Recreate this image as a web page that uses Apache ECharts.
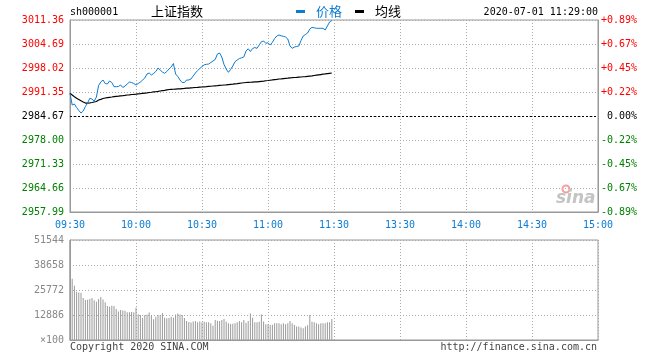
<!DOCTYPE html>
<html><head><meta charset="utf-8">
<script src="https://cdn.jsdelivr.net/npm/echarts@6/dist/echarts.min.js"></script>
<style>html,body{margin:0;padding:0;background:#fff}#c{width:660px;height:360px}</style>
</head><body><div id="c"></div>
<script>
const code = 'sh000001';
const indexName = '上证指数';
const stamp = '2020-07-01 11:29:00';
const prevClose = 2984.67;
const priceMin = 2957.99, priceMax = 3011.36;
const priceTickLabels = ['2957.99','2964.66','2971.33','2978.00','2984.67','2991.35','2998.02','3004.69','3011.36'];
const pctTickLabels = ['-0.89%','-0.67%','-0.45%','-0.22%','0.00%','+0.22%','+0.45%','+0.67%','+0.89%'];
const timeTickLabels = ['09:30','10:00','10:30','11:00','11:30','13:30','14:00','14:30','15:00'];
const volMax = 51544;
const volTickLabels = ['×100','12886','25772','38658','51544'];

const price = [
2990.98,2987.73,2988.01,2987.03,2986.20,2985.50,2986.06,2987.31,2988.28,2989.59,
2989.40,2988.78,2989.95,2993.15,2994.12,2994.68,2993.70,2993.57,2994.40,2993.98,
2992.82,2992.82,2992.87,2993.29,2992.59,2993.01,2993.57,2994.12,2993.98,2993.70,
2993.29,2993.70,2994.12,2994.68,2995.23,2996.35,2996.62,2996.07,2996.48,2997.04,
2998.01,2997.46,2996.90,2996.54,2997.04,2997.74,2998.29,2999.26,2996.35,2995.65,
2994.68,2993.98,2993.98,2994.68,2994.68,2994.96,2995.79,2996.62,2997.32,2997.87,
2998.43,2998.90,2999.04,2999.12,2999.54,2999.96,3000.38,3001.90,3002.18,3001.07,
2998.99,2997.74,2996.82,2997.60,2998.57,2999.76,3000.24,3000.65,3000.85,3001.07,
3002.74,3003.35,3002.60,3003.43,3003.71,3003.49,3004.41,3005.32,3005.52,3004.88,
3005.02,3004.41,3005.16,3006.21,3006.91,3007.19,3006.96,3006.82,3006.63,3006.07,
3004.13,3003.49,3003.85,3003.99,3004.13,3005.66,3006.91,3007.32,3007.74,3008.85,
3009.33,3009.19,3009.05,3009.05,3009.05,3009.05,3008.58,3009.69,3010.80,3011.20
];
const avgPrice = [
2990.98,2990.51,2990.01,2989.59,2989.26,2988.90,2988.56,2988.28,2988.28,2988.34,
2988.42,2988.56,2988.70,2989.12,2989.31,2989.54,2989.67,2989.79,2989.87,2989.95,
2990.04,2990.12,2990.20,2990.29,2990.34,2990.42,2990.51,2990.56,2990.65,2990.70,
2990.76,2990.83,2990.90,2990.98,2991.05,2991.12,2991.20,2991.27,2991.36,2991.42,
2991.51,2991.62,2991.73,2991.81,2991.93,2992.04,2992.08,2992.11,2992.15,2992.19,
2992.23,2992.29,2992.34,2992.40,2992.45,2992.51,2992.55,2992.60,2992.64,2992.69,
2992.73,2992.79,2992.84,2992.90,2992.95,2993.01,2993.07,2993.12,2993.18,2993.23,
2993.29,2993.35,2993.42,2993.49,2993.55,2993.62,2993.69,2993.77,2993.84,2993.91,
2993.98,2994.02,2994.06,2994.10,2994.14,2994.18,2994.25,2994.32,2994.39,2994.47,
2994.54,2994.62,2994.70,2994.79,2994.87,2994.96,2995.02,2995.09,2995.16,2995.22,
2995.29,2995.33,2995.38,2995.42,2995.47,2995.51,2995.58,2995.64,2995.71,2995.78,
2995.84,2995.93,2996.02,2996.11,2996.20,2996.29,2996.37,2996.46,2996.54,2996.62
];
const volume = [
51544,31600,27900,24900,24500,24400,21700,20600,20700,21100,
21700,20500,19700,21100,22100,20900,19400,17500,17200,17600,
17500,16000,14700,15400,15200,15100,14300,14300,14400,14300,
16600,13300,12900,11500,12900,13100,14200,12800,10700,12000,
12900,12900,13900,11500,11200,11300,12000,11500,13200,13700,
13200,12900,11300,9800,9300,9000,9500,9800,9200,9500,
9100,9400,9100,9100,8600,7400,10300,9900,9800,10300,
10800,9400,8600,8300,8400,8600,9100,9800,9100,10300,
8900,9800,13700,11500,9100,9100,9400,13200,9500,8100,
8100,7700,7800,8600,8600,8600,8100,8600,8100,8600,
9800,8600,7700,6900,7000,6400,6000,6900,7600,12900,
9400,9100,8600,8100,8600,8600,8600,9100,9100,10800
];

// trading-minute categories: 09:30-11:30, 13:01-15:00
const times = [];
function pad(n){return (n<10?'0':'')+n;}
for (let t = 9*60+30; t <= 11*60+30; t++) times.push(pad(Math.floor(t/60))+':'+pad(t%60));
for (let t = 13*60+1; t <= 15*60; t++) times.push(pad(Math.floor(t/60))+':'+pad(t%60));

const mono = '"DejaVu Sans Mono", "Liberation Mono", monospace';
const cjk = '"Noto Sans CJK SC", sans-serif';
const blue = '#0c7bd2';
const grey = '#999';
const gridDot = {color:'#aaa', type:[1,2], width:1};
const step = (priceMax - priceMin) / 8;
const tickIdx = v => Math.round((Number(v) - priceMin) / step);
const lblColor = v => { const i = tickIdx(v); return i > 4 ? '#ff0000' : (i < 4 ? '#008000' : '#000'); };
const every30 = (i) => i % 30 === 0;

const chart = echarts.init(document.getElementById('c'), null, {renderer:'canvas'});
chart.setOption({
  animation:false,
  backgroundColor:'#fff',
  legend:{
    left:296, top:5, padding:0, itemWidth:9, itemHeight:3, icon:'rect', itemGap:13, selectedMode:false,
    textStyle:{fontSize:13, fontFamily:cjk, padding:[0,0,0,6]},
    data:[{name:'价格', textStyle:{color:blue}}, {name:'均线', textStyle:{color:'#000'}}]
  },
  grid:[
    {left:70, top:20, width:528, height:192, show:true, borderColor:grey, borderWidth:1},
    {left:70, top:240, width:528, height:100, show:true, borderColor:grey, borderWidth:1}
  ],
  xAxis:[
    {type:'category', gridIndex:0, data:times, boundaryGap:false,
     axisLine:{show:true, lineStyle:{color:grey}}, axisTick:{show:false},
     axisLabel:{interval:every30, color:blue, fontFamily:mono, fontSize:10, margin:8},
     splitLine:{show:true, interval:every30, lineStyle:gridDot}},
    {type:'category', gridIndex:1, data:times, boundaryGap:false,
     axisLine:{show:true, lineStyle:{color:grey}}, axisTick:{show:false},
     axisLabel:{show:false},
     splitLine:{show:true, interval:every30, lineStyle:gridDot}}
  ],
  yAxis:[
    {type:'value', gridIndex:0, position:'left', min:priceMin, max:priceMax, interval:step,
     axisLine:{show:true, lineStyle:{color:grey}}, axisTick:{show:false},
     axisLabel:{margin:6, fontFamily:mono, fontSize:10,
       formatter:v => priceTickLabels[tickIdx(v)], color:lblColor},
     splitLine:{show:true, lineStyle:gridDot}},
    {type:'value', gridIndex:0, position:'right', min:priceMin, max:priceMax, interval:step,
     axisLine:{show:true, lineStyle:{color:grey}}, axisTick:{show:false},
     axisLabel:{margin:39, align:'right', fontFamily:mono, fontSize:10,
       formatter:v => pctTickLabels[tickIdx(v)], color:lblColor},
     splitLine:{show:false}},
    {type:'value', gridIndex:1, position:'left', min:0, max:volMax, interval:volMax/4,
     axisLine:{show:true, lineStyle:{color:grey}}, axisTick:{show:false},
     axisLabel:{margin:6, fontFamily:mono, fontSize:10, color:'#888',
       formatter:v => volTickLabels[Math.round(Number(v)/(volMax/4))]},
     splitLine:{show:true, lineStyle:gridDot}}
  ],
  series:[
    {name:'价格', type:'line', xAxisIndex:0, yAxisIndex:0, data:price, showSymbol:false, symbol:'none',
     color:blue, lineStyle:{color:blue, width:1}, z:4,
     markLine:{silent:true, symbol:'none', label:{show:false}, animation:false,
       lineStyle:{color:'#000', type:[2,2], width:1}, data:[{yAxis:prevClose}]}},
    {name:'均线', type:'line', xAxisIndex:0, yAxisIndex:0, data:avgPrice, showSymbol:false, symbol:'none',
     color:'#000', lineStyle:{color:'#000', width:1.2}, z:3},
    {name:'成交量', type:'bar', xAxisIndex:1, yAxisIndex:2, data:volume, barWidth:1,
     itemStyle:{color:'#9a9a9a'}}
  ],
  graphic:[
    {type:'text', left:70, top:7, style:{text:code, font:'10px '+mono, fill:'#000'}},
    {type:'text', left:151, top:5, style:{text:indexName, font:'13px '+cjk, fill:'#000'}},
    {type:'text', right:62, top:7, style:{text:stamp, font:'10px '+mono, fill:'#000'}},
    {type:'text', left:70, top:342, style:{text:'Copyright 2020 SINA.COM', font:'10px '+mono, fill:'#444'}},
    {type:'text', right:63, top:342, style:{text:'http://finance.sina.com.cn', font:'10px '+mono, fill:'#444'}},
    {type:'circle', shape:{cx:566, cy:189, r:3.5}, style:{fill:'none', stroke:'#f3a0a0', lineWidth:2}, z:1},
    {type:'text', left:556, top:190, style:{text:'sina', font:'italic bold 17px "DejaVu Sans", sans-serif', fill:'#c4c4c4'}, z:1}
  ]
});
</script></body></html>
